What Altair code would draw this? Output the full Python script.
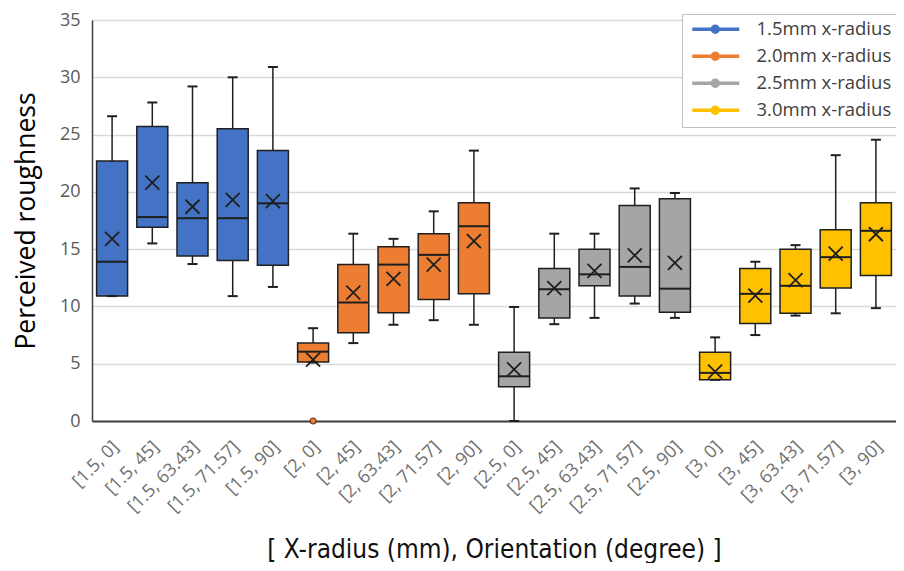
import altair as alt
import pandas as pd

categories = ["[1.5, 0]", "[1.5, 45]", "[1.5, 63.43]", "[1.5, 71.57]", "[1.5, 90]",
              "[2, 0]", "[2, 45]", "[2, 63.43]", "[2, 71.57]", "[2, 90]",
              "[2.5, 0]", "[2.5, 45]", "[2.5, 63.43]", "[2.5, 71.57]", "[2.5, 90]",
              "[3, 0]", "[3, 45]", "[3, 63.43]", "[3, 71.57]", "[3, 90]"]
group_names = ["1.5mm x-radius", "2.0mm x-radius", "2.5mm x-radius", "3.0mm x-radius"]
groups = [g for g in group_names for _ in range(5)]
group_colors = ["#4472C4", "#ED7D31", "#A5A5A5", "#FFC000"]

whisker_low = [10.9, 15.5, 13.7, 10.9, 11.7,
               5.1, 6.8, 8.4, 8.8, 8.4,
               0.0, 8.45, 9.0, 10.25, 9.0,
               3.6, 7.5, 9.2, 9.4, 9.85]
q1 = [10.9, 16.9, 14.4, 14.0, 13.6,
      5.15, 7.7, 9.45, 10.6, 11.1,
      3.0, 9.0, 11.8, 10.9, 9.5,
      3.6, 8.5, 9.4, 11.6, 12.7]
median = [13.9, 17.8, 17.7, 17.7, 19.0,
          6.05, 10.35, 13.65, 14.5, 17.0,
          3.9, 11.5, 12.8, 13.45, 11.55,
          4.2, 11.1, 11.8, 14.3, 16.6]
q3 = [22.7, 25.7, 20.8, 25.5, 23.6,
      6.8, 13.65, 15.2, 16.35, 19.05,
      6.0, 13.3, 15.0, 18.8, 19.4,
      6.0, 13.3, 15.0, 16.7, 19.05]
whisker_high = [26.6, 27.8, 29.2, 30.0, 30.9,
                8.1, 16.35, 15.9, 18.3, 23.6,
                9.95, 16.35, 16.35, 20.3, 19.9,
                7.3, 13.9, 15.35, 23.2, 24.55]
mean = [15.9, 20.8, 18.7, 19.3, 19.2,
        5.35, 11.2, 12.4, 13.65, 15.7,
        4.5, 11.6, 13.1, 14.45, 13.8,
        4.3, 10.95, 12.3, 14.6, 16.3]
outlier_cat = ["[2, 0]"]
outlier_group = ["2.0mm x-radius"]
outlier_val = [0.0]
y_ticks = [0, 5, 10, 15, 20, 25, 30, 35]

df = pd.DataFrame({"cat": categories, "group": groups, "low": whisker_low, "q1": q1,
                   "med": median, "q3": q3, "high": whisker_high, "mean": mean})
df_out = pd.DataFrame({"cat": outlier_cat, "group": outlier_group, "val": outlier_val})

LABEL_FONT = "Open Sans"
EDGE = "#1f1f1f"

xscale = alt.Scale(type="band", domain=categories, paddingInner=0, paddingOuter=0)
yscale = alt.Scale(domain=[0, 35], nice=False, zero=True)
cscale = alt.Scale(domain=group_names, range=group_colors)

X = alt.X("cat:N", scale=xscale, sort=categories,
          axis=alt.Axis(title="[ X-radius (mm), Orientation (degree) ]",
                        labelAngle=-45, labelAlign="right", labelBaseline="middle",
                        labelFont=LABEL_FONT, labelFontSize=18, labelColor="#707070",
                        labelPadding=23, labelOffset=4, ticks=False,
                        domainColor="#404040", domainWidth=2,
                        titleFont="Liberation Sans Narrow, DejaVu Sans Condensed, sans-serif",
                        titleFontSize=26, titleFontWeight="normal", titleColor="#111111",
                        titleY=136, titleBaseline="alphabetic", grid=False))
Y_axis = alt.Axis(title="Perceived roughness", values=y_ticks, labelFont=LABEL_FONT,
                  labelFontSize=18, labelColor="#595959", labelPadding=12, ticks=False,
                  domainColor="#404040", domainWidth=1.5, gridColor="#d9d9d9", gridWidth=1.5,
                  titleFont=LABEL_FONT, titleFontSize=26.5, titleFontWeight="normal",
                  titleColor="#000000", titlePadding=19)

base = alt.Chart(df)

lower_whisker = base.mark_rule(color=EDGE, strokeWidth=1.5).encode(
    x=X, y=alt.Y("low:Q", scale=yscale, axis=Y_axis), y2="q1:Q")
upper_whisker = base.mark_rule(color=EDGE, strokeWidth=1.5).encode(
    x=X, y=alt.Y("q3:Q", scale=yscale), y2="high:Q")

SYM = ("M-1,0H8.4M4.2,0A0.6,0.6,0,1,1,3.0,0A0.6,0.6,0,1,1,4.2,0"
       "M3.8,0A0.2,0.2,0,1,1,3.4,0A0.2,0.2,0,1,1,3.8,0")
legend_layer = base.mark_rule(strokeWidth=0.01).encode(
    x=X, y=alt.Y("med:Q", scale=yscale), y2="med:Q",
    color=alt.Color("group:N", scale=cscale,
                    legend=alt.Legend(title=None, orient="none", legendX=590, legendY=-6,
                                      symbolType=SYM, symbolSize=100, symbolStrokeWidth=3.5,
                                      labelFont=LABEL_FONT, labelFontSize=18.5,
                                      labelColor="#404040", labelOffset=50, symbolOffset=0,
                                      fillColor="white", strokeColor="#bfbfbf",
                                      padding=6, rowPadding=6, labelLimit=300)))

boxes = base.mark_bar(size=31, stroke=EDGE, strokeWidth=1.5).encode(
    x=X, y=alt.Y("q1:Q", scale=yscale), y2="q3:Q",
    color=alt.Color("group:N", scale=cscale, legend=None))

medians = base.mark_tick(size=31, thickness=2, color=EDGE, opacity=1).encode(
    x=X, y=alt.Y("med:Q", scale=yscale))
caps_low = base.mark_tick(size=10, thickness=2, color=EDGE, opacity=1).encode(
    x=X, y=alt.Y("low:Q", scale=yscale))
caps_high = base.mark_tick(size=10, thickness=2, color=EDGE, opacity=1).encode(
    x=X, y=alt.Y("high:Q", scale=yscale))
means = base.mark_point(shape="M-1,-1L1,1M-1,1L1,-1", size=196, filled=False,
                        color=EDGE, strokeWidth=1.8, opacity=1).encode(
    x=X, y=alt.Y("mean:Q", scale=yscale))
outliers = alt.Chart(df_out).mark_point(shape="circle", size=36, filled=True, fill="#ED7D31",
                                        stroke="#6b3410", strokeWidth=1.2, opacity=1).encode(
    x=X, y=alt.Y("val:Q", scale=yscale))

chart = alt.layer(lower_whisker, upper_whisker, legend_layer, boxes, medians,
                  caps_low, caps_high, means, outliers).properties(
    width=804, height=401,
    autosize=alt.AutoSizeParams(type="none"),
    padding={"left": 84, "top": 12, "right": 0, "bottom": 142},
).configure_view(strokeWidth=0).configure(background="white")

chart.save("out.html", embed_options={"renderer": "svg", "actions": False})
